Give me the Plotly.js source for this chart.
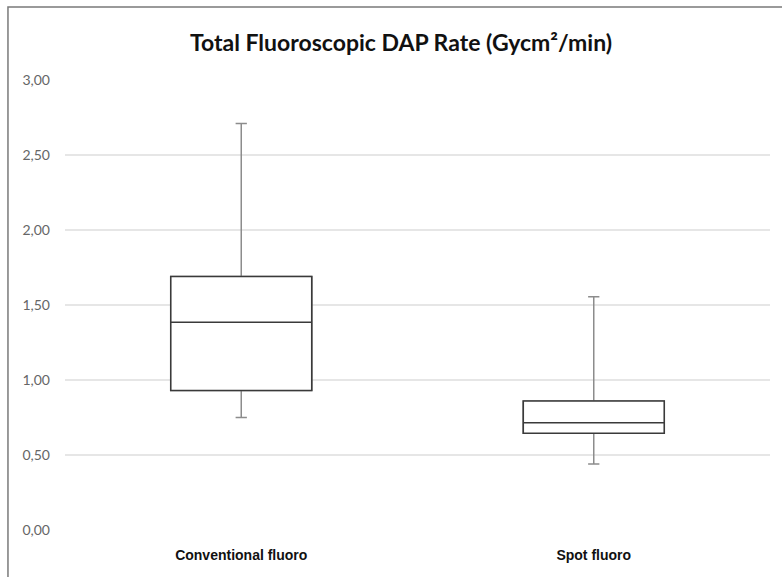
<!DOCTYPE html>
<html>
<head>
<meta charset="utf-8">
<script src="https://cdn.plot.ly/plotly-3.0.1.min.js"></script>
<style>html,body{margin:0;padding:0;background:#fff;}#chart{width:782px;height:577px;}</style>
</head>
<body>
<div id="chart"></div>
<script>
const categories = ["Conventional fluoro", "Spot fluoro"];
const positions = [0, 1];
const lowerWhisker = [0.75, 0.44];
const q1 = [0.93, 0.645];
const median = [1.385, 0.715];
const q3 = [1.69, 0.86];
const upperWhisker = [2.71, 1.555];
const yTicks = [0, 0.5, 1, 1.5, 2, 2.5, 3];

const traces = [];
// whiskers (gray)
traces.push({
  type: 'box', x: positions, q1: q1, median: median, q3: q3,
  lowerfence: lowerWhisker, upperfence: upperWhisker,
  width: 0.4, whiskerwidth: 0.08,
  line: {color: '#8c8c8c', width: 1.5}, fillcolor: 'rgba(255,255,255,1)',
  hoverinfo: 'skip', showlegend: false, boxpoints: false
});
// box outline (dark)
traces.push({
  type: 'box', x: positions, q1: q1, median: median, q3: q3,
  lowerfence: q1, upperfence: q3,
  width: 0.4, whiskerwidth: 0,
  line: {color: '#3a3a3a', width: 1.6}, fillcolor: 'rgba(255,255,255,1)',
  hoverinfo: 'skip', showlegend: false, boxpoints: false
});

const layout = {
  width: 782, height: 577,
  margin: {l: 65, r: 12, t: 80, b: 47},
  paper_bgcolor: '#fff', plot_bgcolor: '#fff',
  separators: ',.',
  boxmode: 'overlay',
  title: {text: 'Total Fluoroscopic DAP Rate (Gycm²/min)', x: 401/782, xanchor: 'center', xref: 'container',
          y: 1 - 43/577, yanchor: 'middle', yref: 'container',
          font: {family: 'Lato, sans-serif', size: 23, color: '#111', weight: 'bold'}},
  xaxis: {range: [-0.5, 1.5], tickvals: positions, ticktext: categories,
          showgrid: false, zeroline: false, showline: false, ticks: '',
          tickfont: {family: 'Liberation Sans, Arial, sans-serif', size: 14, color: '#111', weight: 'bold'},
          ticklabelstandoff: 15},
  yaxis: {range: [0, 3], tickvals: yTicks, tickformat: '.2f', showgrid: true, gridcolor: '#e6e6e6', gridwidth: 1.2,
          zeroline: false, showline: false, ticks: '',
          tickfont: {family: 'Lato, sans-serif', size: 14, color: '#666'}, ticklabelstandoff: 14},
  shapes: [{type: 'rect', xref: 'paper', yref: 'paper', x0: -0.0809, x1: 1.05, y0: -0.2, y1: 1.1622,
            line: {color: '#7a7a7a', width: 1.5}, fillcolor: 'rgba(0,0,0,0)', layer: 'above'}]
};

Plotly.newPlot('chart', traces, layout, {displayModeBar: false, staticPlot: true});
</script>
</body>
</html>
